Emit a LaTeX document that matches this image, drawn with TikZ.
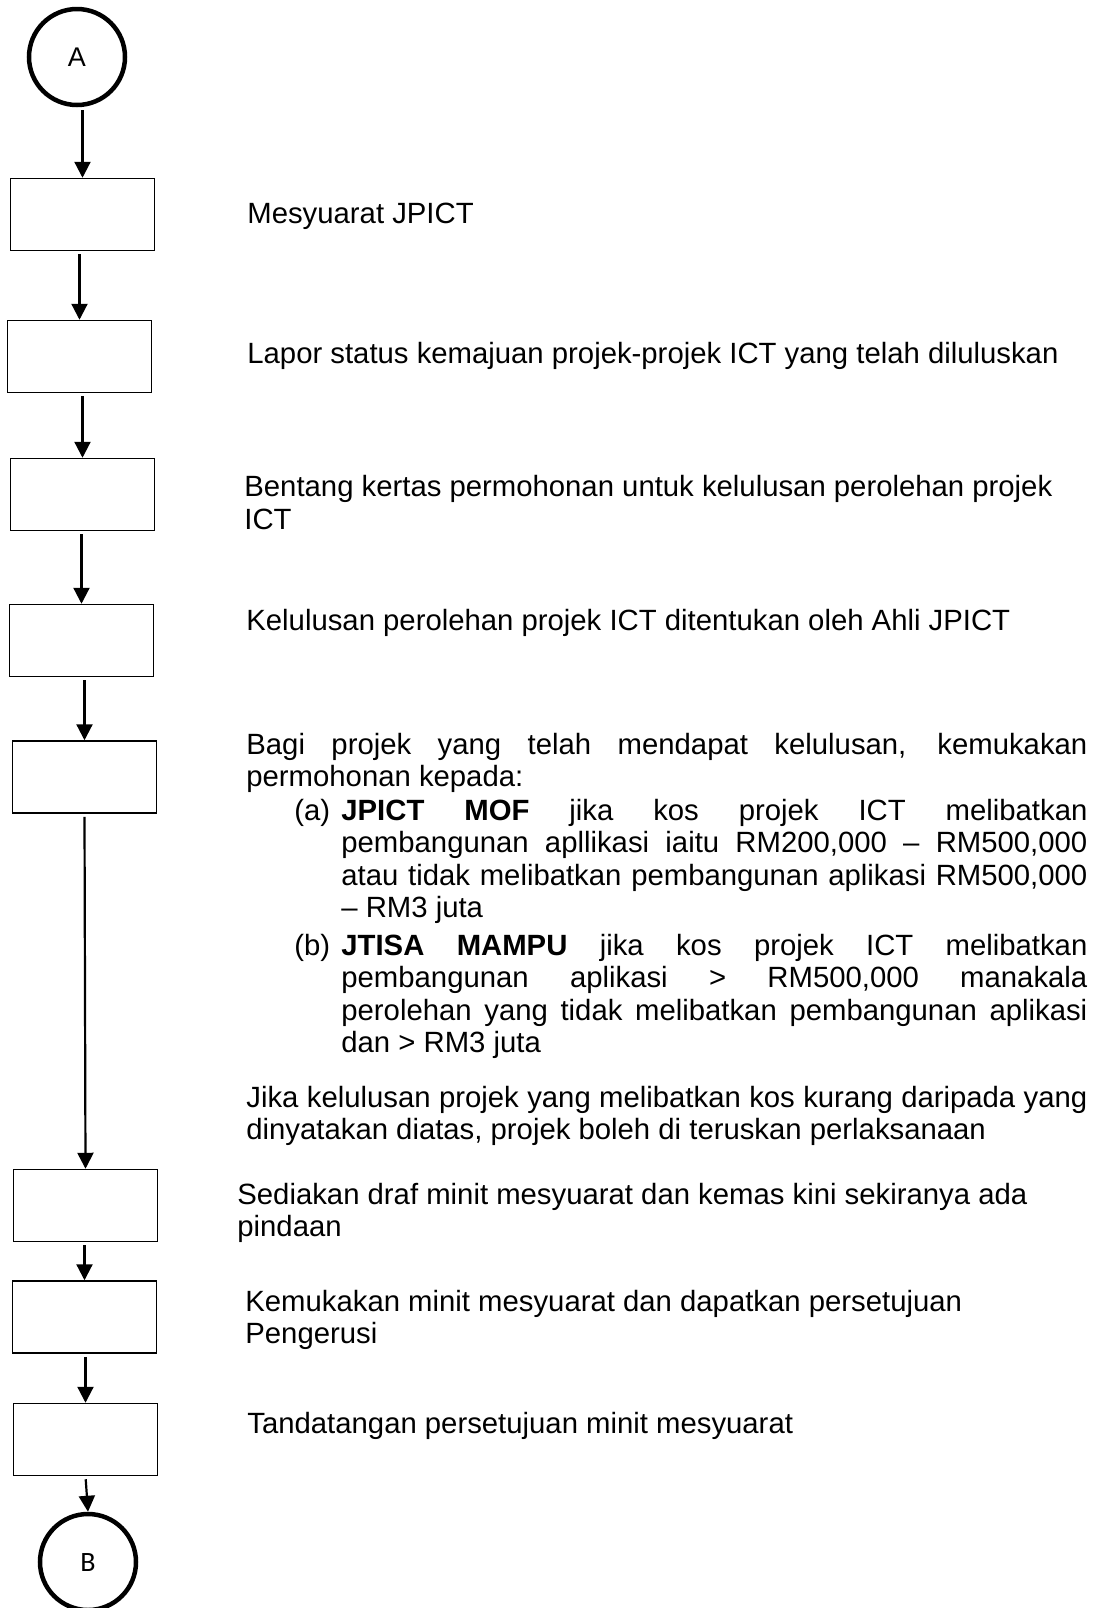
\documentclass[tikz,border=0pt]{standalone}
\usepackage{fontspec}
\setmainfont{Liberation Sans}
\newfontfamily\connfont{Carlito}
\usetikzlibrary{arrows.meta}
\tolerance=10000
\hbadness=10000
\hyphenpenalty=10000

\tikzset{
  stepbox/.style={draw=lineColor, line width=0.75pt, minimum width=72pt, minimum height=36pt, inner sep=0pt},
  connector/.style={draw=lineColor, circle, line width=2.25pt, minimum size=48pt, inner sep=0pt},
  flow/.style={draw=lineColor, line width=1.1pt, shorten <=1.5pt, -{Triangle[width=8pt,length=8pt]}},
  note/.style={anchor=base west, inner sep=0pt, font=\fontsize{14.65}{16.25}\selectfont},
}

\begin{document}
\begin{tikzpicture}[x=0.5pt, y=-0.5pt]
% Colors
\definecolor{lineColor}{RGB}{0,0,0}
\useasboundingbox (0,0) rectangle (1093,1608);
% Flow column
\node[connector, font=\fontsize{13.5}{16}\selectfont] (conA) at (77,57) {A};
\node[stepbox] (box1) at (82.5,214.5) {};  % 1
\node[stepbox] (box2) at (79.5,356.5) {};  % 2
\node[stepbox] (box3) at (82.5,494.5) {};  % 3
\node[stepbox] (box4) at (81.5,640.5) {};  % 4
\node[stepbox] (box5) at (84.5,777) {};    % 5
\node[stepbox] (box6) at (85.5,1205.5) {}; % 6
\node[stepbox] (box7) at (84.5,1317) {};   % 7
\node[stepbox] (box8) at (85.5,1439.5) {}; % 8
\node[connector, font=\connfont\fontsize{14}{16}\selectfont] (conB) at (88,1562) {B};
% Arrows, vertical into the next shape
\draw[flow] (conA.south -| box1.north) -- (box1.north);
\draw[flow] (box1.south -| box2.north) -- (box2.north);
\draw[flow] (box2.south -| box3.north) -- (box3.north);
\draw[flow] (box3.south -| box4.north) -- (box4.north);
\draw[flow] (box4.south -| box5.north) -- (box5.north);
\draw[flow] (box5.south) -- (box6.north);
\draw[flow] (box6.south -| box7.north) -- (box7.north);
\draw[flow] (box7.south -| box8.north) -- (box8.north);
\draw[flow] (box8.south) -- (conB.north);
% Texts
\node[note] (txt1) at (247,223) {Mesyuarat JPICT};
\node[note] (txt2) at (247,363) {Lapor status kemajuan projek-projek ICT yang telah diluluskan};
\node[note, text width=421.5pt, align=flush left, font=\fontsize{14.65}{16.75}\selectfont] (txt3) at (244,496)
  {Bentang kertas permohonan untuk kelulusan perolehan projek\\ICT};
\node[note] (txt4) at (246,630) {Kelulusan perolehan projek ICT ditentukan oleh Ahli JPICT};
\node[note, text width=420.5pt, align=justify] (txt5) at (246,754)
  {Bagi projek yang telah mendapat kelulusan, kemukakan\linebreak permohonan kepada:};
\node[note] (labA) at (294,820) {(a)};
\node[note, text width=373pt, align=justify] (itemA) at (341,820)
  {\textbf{JPICT MOF} jika kos projek ICT melibatkan\linebreak pembangunan apllikasi iaitu RM200,000 – RM500,000\linebreak atau tidak melibatkan pembangunan aplikasi RM500,000\linebreak – RM3 juta};
\node[note] (labB) at (294,955) {(b)};
\node[note, text width=373pt, align=justify] (itemB) at (341,955)
  {\textbf{JTISA MAMPU} jika kos projek ICT melibatkan\linebreak pembangunan aplikasi > RM500,000 manakala\linebreak perolehan yang tidak melibatkan pembangunan aplikasi\linebreak dan > RM3 juta};
\node[note, text width=420.5pt, align=justify] (txt6) at (246,1107)
  {Jika kelulusan projek yang melibatkan kos kurang daripada yang\linebreak dinyatakan diatas, projek boleh di teruskan perlaksanaan};
\node[note, text width=425pt, align=flush left] (txt7) at (237,1204)
  {Sediakan draf minit mesyuarat dan kemas kini sekiranya ada\\pindaan};
\node[note, text width=421pt, align=flush left] (txt8) at (245,1311)
  {Kemukakan minit mesyuarat dan dapatkan persetujuan\\Pengerusi};
\node[note] (txt9) at (247,1433) {Tandatangan persetujuan minit mesyuarat};
\end{tikzpicture}
\end{document}
